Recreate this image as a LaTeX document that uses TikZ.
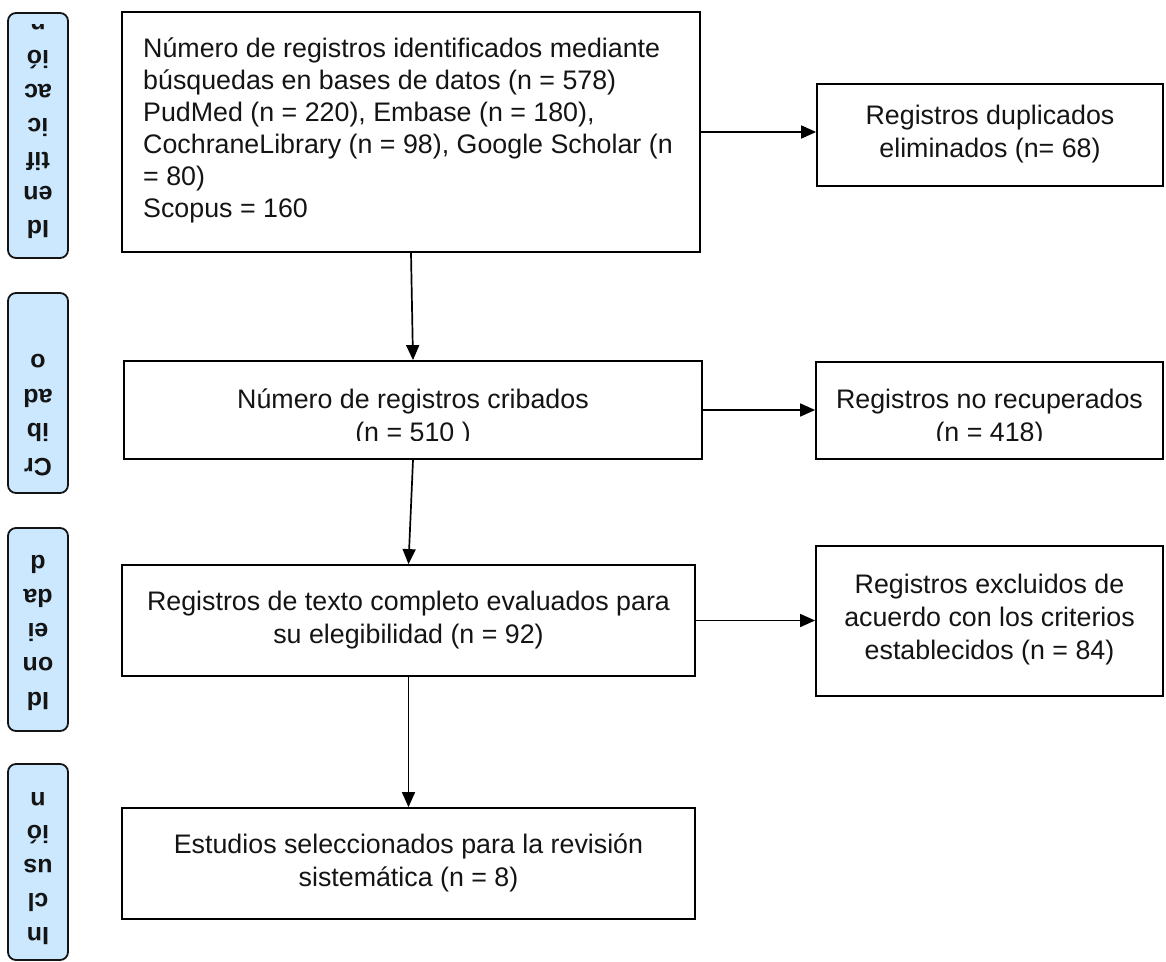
\documentclass[tikz,border=0pt]{standalone}
\usepackage{fontspec}
\setmainfont{Liberation Sans}
\usetikzlibrary{arrows.meta}
\definecolor{sidefill}{RGB}{204,232,255}
\definecolor{ink}{RGB}{20,20,20}
\newcommand{\boxfnt}[1]{\fontsize{26.8}{#1}\selectfont}
\newcommand{\sidelbl}[1]{\fontsize{25}{#1}\selectfont\bfseries}
\newcommand{\mlines}[2]{\begin{tabular}[t]{@{}#1@{}}#2\end{tabular}}
\tikzset{
  stage/.style={draw=black, line width=1.8pt, inner sep=0pt, rectangle},
  sidebox/.style={draw=ink, fill=sidefill, line width=1.8pt, rounded corners=8pt,
    inner sep=0pt, minimum width=60pt},
  txt/.style={inner sep=0pt, text=ink},
  arr/.style={draw=black, line width=1.7pt, -{Triangle[length=15pt,width=13pt]}}
}
\begin{document}
\begin{tikzpicture}[x=1pt,y=-1pt]
\useasboundingbox (0,0) rectangle (1166,961);

% side stage labels
\node[sidebox, minimum height=245pt] (S1) at (38,135.5) {};
\node[sidebox, minimum height=200pt] (S2) at (38,393) {};
\node[sidebox, minimum height=203pt] (S3) at (38,629.5) {};
\node[sidebox, minimum height=196pt] (S4) at (38,862) {};
\begin{scope}
  \clip (9,24) rectangle (67,257);
  \node[txt, font=\sidelbl{34}, anchor=base, rotate=180] (L1) at (38,220)
    {\mlines{c}{Id\\en\\tif\\ic\\ac\\ió\\n}};
\end{scope}
\node[txt, font=\sidelbl{34.5}, anchor=base, rotate=180] (L2) at (38,458)
  {\mlines{c}{Cr\\ib\\ad\\o}};
\node[txt, font=\sidelbl{34.25}, anchor=base, rotate=180] (L3) at (38,692)
  {\mlines{c}{Id\\on\\ei\\da\\d}};
\node[txt, font=\sidelbl{33.75}, anchor=base, rotate=180] (L4) at (38,927)
  {\mlines{c}{In\\cl\\us\\ió\\n}};

% stage boxes
\node[stage, minimum width=578pt, minimum height=240pt] (A) at (411,132) {};
\node[stage, minimum width=346pt, minimum height=102pt] (B) at (990,135) {};
\node[stage, minimum width=578pt, minimum height=98pt] (C) at (413,410) {};
\node[stage, minimum width=347pt, minimum height=97pt] (D) at (989.5,410.5) {};
\node[stage, minimum width=573pt, minimum height=111pt] (E) at (408.5,620.5) {};
\node[stage, minimum width=347pt, minimum height=150pt] (F) at (989.5,621) {};
\node[stage, minimum width=573pt, minimum height=111pt] (G) at (408.5,863.5) {};

% texts
\node[txt, font=\boxfnt{32}, anchor=base west] (At) at (143,57)
  {\mlines{l}{Número de registros identificados mediante\\
  búsquedas en bases de datos (n = 578)\\
  PudMed (n = 220), Embase (n = 180),\\
  CochraneLibrary (n = 98), Google Scholar (n\\
  = 80)\\
  Scopus = 160}};
\node[txt, font=\boxfnt{33}, anchor=base] (Bt) at (990,124)
  {\mlines{c}{Registros duplicados\\eliminados (n= 68)}};
\begin{scope}
  \clip (125,362) rectangle (701,440);
  \node[txt, font=\boxfnt{33}, anchor=base] (Ct) at (413,408)
    {\mlines{c}{Número de registros cribados\\(n = 510 )}};
\end{scope}
\begin{scope}
  \clip (817,362) rectangle (1162,440);
  \node[txt, font=\boxfnt{33}, anchor=base] (Dt) at (989.5,408)
    {\mlines{c}{Registros no recuperados\\(n = 418)}};
\end{scope}
\node[txt, font=\boxfnt{33}, anchor=base] (Et) at (408.5,610)
  {\mlines{c}{Registros de texto completo evaluados para\\su elegibilidad (n = 92)}};
\node[txt, font=\boxfnt{33}, anchor=base] (Ft) at (989.5,593)
  {\mlines{c}{Registros excluidos de\\acuerdo con los criterios\\establecidos (n = 84)}};
\node[txt, font=\boxfnt{33}, anchor=base] (Gt) at (408.5,853)
  {\mlines{c}{Estudios seleccionados para la revisión\\sistemática (n = 8)}};

% connectors
\draw[arr] (A.east) -- (A.east -| B.west);
\draw[arr] (A.south) -- (C.north);
\draw[arr] (C.east) -- (C.east -| D.west);
\draw[arr] (C.south) -- (E.north);
\draw[arr] (E.east) -- (E.east -| F.west);
\draw[arr] (E.south) -- (G.north);
\end{tikzpicture}
\end{document}
